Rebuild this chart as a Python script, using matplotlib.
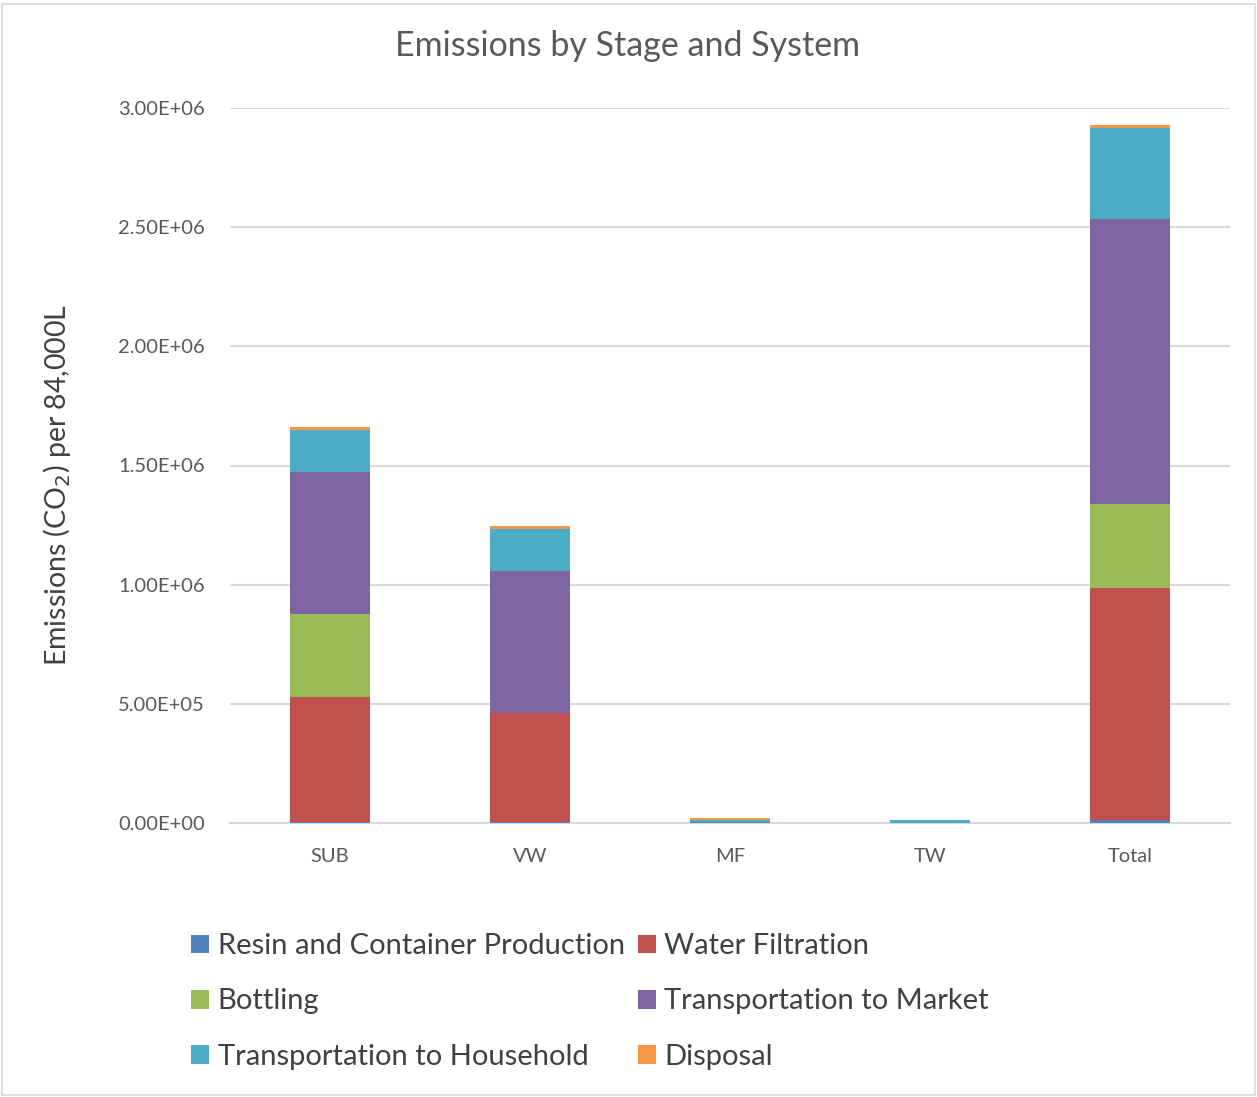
import matplotlib
matplotlib.use("Agg")
import matplotlib.pyplot as plt
from matplotlib.patches import Rectangle
import numpy as np

plt.rcParams['font.family'] = ['Lato', 'DejaVu Sans']

systems = ["SUB", "VW", "MF", "TW", "Total"]
stages = ["Resin and Container Production", "Water Filtration", "Bottling",
          "Transportation to Market", "Transportation to Household", "Disposal"]

resin = [3000, 3000, 3000, 2000, 11000]
water_filtration = [524000, 459000, 0, 0, 976000]
bottling = [350000, 0, 0, 0, 350000]
transport_market = [596000, 595000, 0, 0, 1198000]
transport_household = [176000, 177000, 10000, 12000, 383000]
disposal = [14000, 14000, 10000, 0, 10000]

series = [resin, water_filtration, bottling, transport_market,
          transport_household, disposal]
colors = ["#4F81BD", "#C0504D", "#9BBB59", "#8064A2", "#4BACC6", "#F79646"]

yticks = [0, 500000, 1000000, 1500000, 2000000, 2500000, 3000000]
ytick_labels = ["0.00E+00", "5.00E+05", "1.00E+06", "1.50E+06",
                "2.00E+06", "2.50E+06", "3.00E+06"]

W, H = 1257, 1097
fig = plt.figure(figsize=(W / 100, H / 100), dpi=100)
ax = fig.add_axes([230 / W, 1 - 823 / H, 1000 / W, 715 / H])

x = np.arange(len(systems))
bottom = np.zeros(len(systems))
handles = []
for vals, col, name in zip(series, colors, stages):
    b = ax.bar(x, vals, width=0.4, bottom=bottom, color=col, label=name,
               zorder=3, edgecolor="none")
    handles.append(b)
    bottom += np.array(vals)

ax.set_xlim(-0.5, len(systems) - 0.5)
ax.set_ylim(0, 3000000)
ax.set_yticks(yticks)
ax.set_yticklabels(ytick_labels)
ax.set_xticks(x)
ax.set_xticklabels(systems)
ax.yaxis.grid(True, color="#D9D9D9", linewidth=1.5, zorder=0)
ax.set_axisbelow(True)
for s in ["top", "right", "left"]:
    ax.spines[s].set_visible(False)
ax.spines["bottom"].set_color("#D9D9D9")
ax.spines["bottom"].set_linewidth(1.5)
ax.tick_params(axis="both", length=0, labelsize=14.5, colors="#595959")
ax.tick_params(axis="y", pad=18)
ax.tick_params(axis="x", pad=18)

fig.text(628 / W, 1 - 46 / H, "Emissions by Stage and System",
         ha="center", va="center", fontsize=24.5, color="#595959")
fig.text(57 / W, 1 - 485 / H, "Emissions (CO$_2$) per 84,000L",
         ha="center", va="center", rotation=90, fontsize=20.5, color="#404040")

# legend laid out row by row in two columns
order = [0, 2, 4, 1, 3, 5]
leg = fig.legend([handles[i] for i in order], [stages[i] for i in order],
                 ncol=2, loc="upper left", bbox_to_anchor=(165 / W, 1 - 907 / H),
                 frameon=False, fontsize=21, handlelength=0.62, handleheight=0.62,
                 handletextpad=0.28, columnspacing=0.45, labelspacing=1.0,
                 labelcolor="#404040")

fig.patches.append(Rectangle((2 / W, 2 / H), 1 - 4 / W, 1 - 6 / H,
                             transform=fig.transFigure, fill=False,
                             edgecolor="#D9D9D9", linewidth=1.2))

fig.savefig("out.png", dpi=100, facecolor="white")
